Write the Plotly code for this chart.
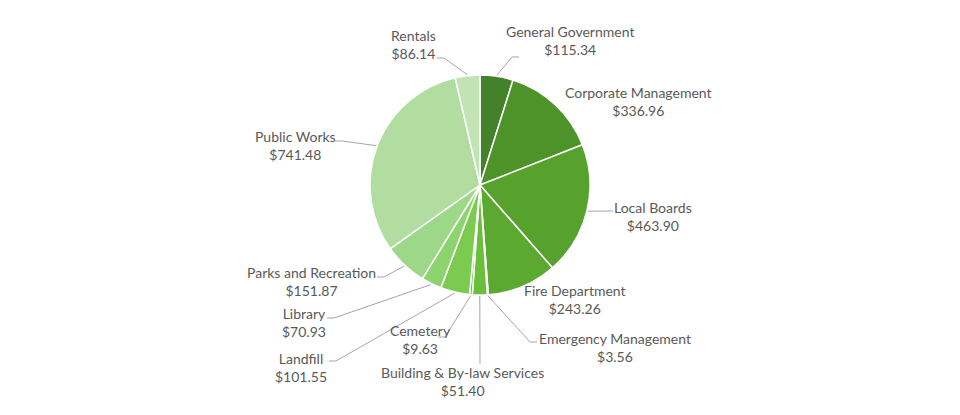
import math
import plotly.graph_objects as go

# ---- data ----
labels = [
    "General Government", "Corporate Management", "Local Boards",
    "Fire Department", "Emergency Management", "Building & By-law Services",
    "Cemetery", "Landfill", "Library", "Parks and Recreation",
    "Public Works", "Rentals",
]
values = [115.34, 336.96, 463.90, 243.26, 3.56, 51.40,
          9.63, 101.55, 70.93, 151.87, 741.48, 86.14]
colors = ["#43812A", "#4E9329", "#56A22D", "#5CA932", "#63B337", "#6BBE3C",
          "#73C545", "#7BCB50", "#8CD46D", "#9DD889", "#B1DDA0", "#C2E4B5"]

# ---- layout (page pixels) ----
W, H = 960, 415
OFF = 8          # page body margin around the plot div
CX, CY, R = 480, 185, 110
# label centre and leader end near the label (None = no leader)
label_pos = [
    (570, 40), (638, 101), (653, 216), (575, 299), (615, 347), (462, 381),
    (420, 339), (301, 367), (304, 322), (311, 281), (295, 145), (413, 45),
]
leader_end = [
    (519, 57), None, (613, 211), None, (537, 342), (480, 364),
    (438, 337), (329, 361), (327, 318), (377, 277), (335, 141), (437, 58),
]


def px(x, y):
    return (x - OFF) / W, 1 - (y - OFF) / H


x0, y1 = px(CX - R, CY - R)
x1, y0 = px(CX + R, CY + R)

fig = go.Figure(go.Pie(
    labels=labels,
    values=values,
    sort=False,
    direction="clockwise",
    rotation=0,
    textinfo="none",
    hoverinfo="label+value",
    marker=dict(colors=colors, line=dict(color="white", width=1.5)),
    domain=dict(x=[x0, x1], y=[y0, y1]),
    showlegend=False,
))

total = sum(values)
shapes, annotations = [], []
cum = 0
for i, (lab, v) in enumerate(zip(labels, values)):
    mid = (cum + v / 2) / total * 2 * math.pi
    cum += v
    tx = CX + (R + 1) * math.sin(mid)
    ty = CY - (R + 1) * math.cos(mid)
    lx, ly = label_pos[i]
    annotations.append(dict(
        x=px(lx, ly)[0], y=px(lx, ly)[1], xref="paper", yref="paper",
        text=f"{lab}<br>${v:,.2f}", showarrow=False,
        xanchor="center", yanchor="middle", align="center",
        font=dict(size=14, color="#595959"),
    ))
    end = leader_end[i]
    if end is None:
        continue
    ex, ey = end
    if abs(ex - tx) < 3:
        pts = [(tx, ty), (ex, ey)]
    else:
        step = 7 if ex < tx else -7
        pts = [(tx, ty), (ex + step, ey), (ex, ey)]
    path = " ".join(("M" if k == 0 else "L") + f" {px(*p)[0]:.5f},{px(*p)[1]:.5f}"
                    for k, p in enumerate(pts))
    shapes.append(dict(type="path", path=path, xref="paper", yref="paper",
                       line=dict(color="#A6A6A6", width=1)))

fig.update_layout(
    width=W, height=H,
    margin=dict(l=0, r=0, t=0, b=0),
    paper_bgcolor="white",
    plot_bgcolor="white",
    font=dict(family="Lato, Open Sans, sans-serif", color="#595959"),
    shapes=shapes,
    annotations=annotations,
)

fig.write_html("out.html")
